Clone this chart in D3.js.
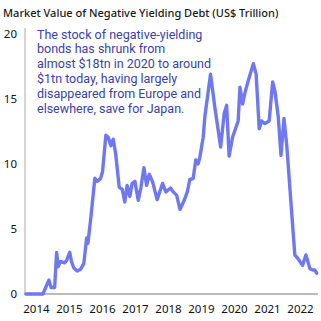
<!DOCTYPE html>
<html><head><meta charset="utf-8">
<script src="https://cdn.jsdelivr.net/npm/d3@7"></script>
<style>body{margin:0;background:#fff}svg{display:block}</style>
</head><body>
<script>
const dates = ["2014-03-12","2014-09-17","2014-11-22","2014-12-17","2015-01-25","2015-02-16","2015-03-04","2015-03-30","2015-05-14","2015-06-05","2015-07-11","2015-07-30","2015-08-25","2015-10-01","2015-11-08","2015-12-14","2016-01-14","2016-01-28","2016-02-27","2016-04-14","2016-05-09","2016-06-16","2016-07-08","2016-08-14","2016-09-09","2016-10-08","2016-11-03","2016-11-30","2017-01-09","2017-02-11","2017-03-11","2017-04-06","2017-05-06","2017-06-01","2017-07-01","2017-08-07","2017-09-06","2017-10-09","2017-11-08","2017-12-07","2018-01-14","2018-03-04","2018-05-03","2018-06-09","2018-07-31","2018-08-29","2018-10-06","2018-11-12","2018-12-29","2019-02-01","2019-03-01","2019-04-07","2019-05-06","2019-06-01","2019-06-20","2019-07-27","2019-08-14","2019-10-16","2019-12-03","2020-02-05","2020-03-15","2020-04-11","2020-05-09","2020-06-16","2020-08-17","2020-09-06","2020-10-05","2020-11-01","2020-12-17","2021-02-01","2021-03-04","2021-04-07","2021-05-03","2021-06-09","2021-07-26","2021-09-03","2021-09-28","2021-11-04","2021-12-04","2022-01-06","2022-02-06","2022-05-06","2022-06-12","2022-07-30","2022-09-06","2022-10-20","2022-11-19","2022-12-14","2023-01-03"];
const values = [0,0,1.07,0.5,0.5,3.2,2.1,2.5,2.4,2.55,3.2,2.5,2.0,1.76,1.9,2.35,4.3,3.9,5.7,8.9,8.66,8.87,9.4,12.2,12.05,11.4,11.9,10.8,8.2,8.05,7.07,8.35,7.5,8.5,8.66,7.2,8.2,9.7,8.35,9.2,8.6,7.25,8.5,7.85,8.15,7.85,7.6,6.5,7.2,7.85,8.8,8.87,10.3,10.0,10.5,12.05,13.6,16.9,14.35,11.3,13.85,14.5,10.6,12.05,13.3,15.9,14.6,15.5,16.65,17.7,16.9,12.7,13.3,13.1,13.3,16.3,15.6,13.6,10.65,13.5,11.4,3.0,2.7,2.2,3.0,1.95,1.84,1.84,1.6];
const yearLabels = ["2014","2015","2016","2017","2018","2019","2020","2021","2022"];
const yTicks = [0,5,10,15,20];
const title = "Market Value of Negative Yielding Debt (US$ Trillion)";
const noteLines = ["The stock of negative-yielding","bonds has shrunk from","almost $18tn in 2020 to around","$1tn today, having largely","disappeared from Europe and","elsewhere, save for Japan."];

const W = 321, H = 321;
const svg = d3.select("body").append("svg").attr("width", W).attr("height", H);
const parse = d3.timeParse("%Y-%m-%d");
const data = dates.map((d, i) => ({date: parse(d), value: values[i]}));

const x = d3.scaleTime().domain([new Date(2014,0,1), new Date(2023,0,1)]).range([19.5, 316.5]);
const y = d3.scaleLinear().domain([0, 20]).range([294, 33.8]);

const font = "Noto Sans, sans-serif";

svg.append("text").attr("x", 3).attr("y", 16.5).attr("font-family", font)
  .attr("font-size", 11).attr("font-weight", 500).attr("fill", "#1a1a1a").text(title);

// y axis
const yAxis = svg.append("g").attr("transform", "translate(25,0)")
  .call(d3.axisLeft(y).tickValues(yTicks).tickSize(0).tickPadding(8));
yAxis.select(".domain").remove();
yAxis.selectAll("text").attr("font-family", font).attr("font-size", 11.5).attr("fill", "#111");
svg.append("line").attr("x1", 25).attr("x2", 25).attr("y1", 28).attr("y2", 294)
  .attr("stroke", "#aaa").attr("stroke-width", 1);

// x axis
const xAxis = svg.append("g").attr("transform", "translate(0,294)")
  .call(d3.axisBottom(x).tickValues(yearLabels.map(yr => new Date(+yr, 6, 2)))
    .tickFormat(d3.timeFormat("%Y")).tickSize(0).tickPadding(11));
xAxis.select(".domain").remove();
xAxis.selectAll("text").attr("font-family", font).attr("font-size", 11.5).attr("fill", "#111");
svg.append("line").attr("x1", 25).attr("x2", 318).attr("y1", 294).attr("y2", 294)
  .attr("stroke", "#bbb").attr("stroke-width", 2);

// line
svg.append("path").datum(data)
  .attr("fill", "none").attr("stroke", "#6f78f0").attr("stroke-width", 3.4)
  .attr("stroke-linejoin", "round").attr("stroke-linecap", "round")
  .attr("d", d3.line().x(d => x(d.date)).y(d => y(d.value)));

// annotation
const note = svg.append("text").attr("font-family", "Roboto, sans-serif").attr("font-size", 12.5)
  .attr("fill", "#3b3fa6");
noteLines.forEach((l, i) => {
  note.append("tspan").attr("x", 37).attr("y", 38.5 + i * 14.8).text(l);
});
</script>
</body></html>
